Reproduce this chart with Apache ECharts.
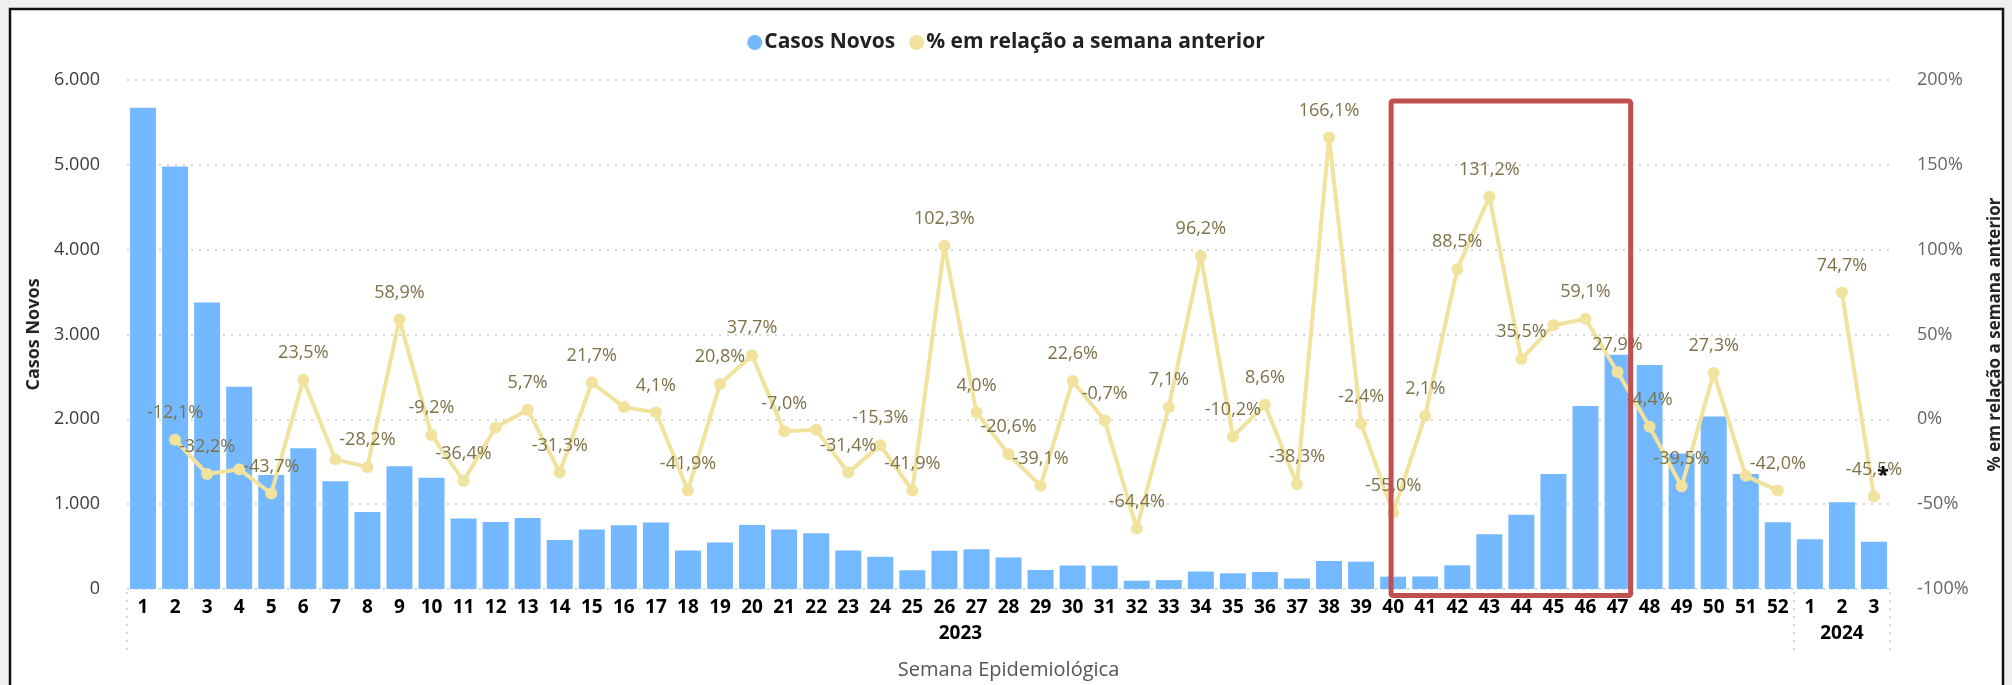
<!DOCTYPE html>
<html><head><meta charset="utf-8">
<script src="https://cdn.jsdelivr.net/npm/echarts@6/dist/echarts.min.js"></script>
<style>html,body{margin:0;padding:0;background:#efefef;} #c{width:2012px;height:685px;}</style>
</head><body><div id="c"></div>
<script>
// ---- data ----
const weeks = ['1','2','3','4','5','6','7','8','9','10','11','12','13','14','15','16','17','18','19','20',
  '21','22','23','24','25','26','27','28','29','30','31','32','33','34','35','36','37','38','39','40',
  '41','42','43','44','45','46','47','48','49','50','51','52','1','2','3'];
const years = ['2023', '2024'];
const weeksPerYear = [52, 3];
const casosNovos = [5672, 4981, 3377, 2383, 1344, 1660, 1269, 909, 1447, 1312,
  830, 790, 838, 577, 700, 751, 783, 455, 549, 755,
  700, 656, 455, 379, 221, 451, 470, 372, 225, 277,
  275, 98, 105, 206, 185, 201, 124, 330, 322, 145,
  148, 279, 645, 874, 1357, 2158, 2760, 2640, 1597, 2033,
  1355, 786, 585, 1022, 557];
const pctSemanaAnterior = [null, -12.1, -32.2, -29.4, -43.7, 23.5, -23.6, -28.2, 58.9, -9.2,
  -36.4, -4.8, 5.7, -31.3, 21.7, 7.3, 4.1, -41.9, 20.8, 37.7,
  -7.0, -6.2, -31.4, -15.3, -41.9, 102.3, 4.0, -20.6, -39.1, 22.6,
  -0.7, -64.4, 7.1, 96.2, -10.2, 8.6, -38.3, 166.1, -2.4, -55.0,
  2.1, 88.5, 131.2, 35.5, 55.5, 59.1, 27.9, -4.4, -39.5, 27.3,
  -33.3, -42.0, null, 74.7, -45.5];
// week positions (0-based) whose labels are hidden in the original
const hiddenLabels = [3, 6, 11, 15, 21, 44, 50];
// highlighted weeks (red box)
const highlightFrom = 39, highlightTo = 46;

// year centers derived from week counts
const yearCenter = {};
let acc = 0;
years.forEach((y, i) => { yearCenter[(acc + (acc + weeksPerYear[i] - 1)) / 2] = y; acc += weeksPerYear[i]; });
const yearBounds = [-0.5]; acc = 0;
weeksPerYear.forEach(n => { acc += n; yearBounds.push(acc - 0.5); });

const FONT = 'Open Sans, Noto Sans, sans-serif';
const fmtThousands = v => String(v).replace(/\B(?=(\d{3})+(?!\d))/g, '.');
const fmtPct = v => v.toFixed(1).replace('.', ',') + '%';

const chart = echarts.init(document.getElementById('c'));
const option = {
  backgroundColor: 'transparent',
  textStyle: { fontFamily: FONT },
  animation: false,
  legend: {
    top: 27, left: 'center', icon: 'circle', itemWidth: 15, itemHeight: 15, itemGap: 14,
    textStyle: { fontFamily: FONT, fontWeight: 'bold', fontSize: 21, color: '#222', padding: [0, 0, 0, -3] },
    data: ['Casos Novos', '% em relação a semana anterior']
  },
  grid: { left: 127, right: 119, top: 80, bottom: 96 },
  xAxis: [{
    type: 'category', data: weeks,
    axisLine: { show: false }, axisTick: { show: false },
    axisLabel: { interval: 0, fontFamily: FONT, fontWeight: 'bold', fontSize: 19, color: '#000', margin: 9 },
    name: 'Semana Epidemiológica', nameLocation: 'middle', nameGap: 71,
    nameTextStyle: { fontFamily: FONT, fontSize: 20, color: '#555' }
  }, {
    type: 'value', min: -0.5, max: 54.5, interval: 0.5, position: 'bottom', offset: 26,
    axisLine: { show: false }, axisTick: { show: false }, splitLine: { show: false },
    axisLabel: { fontFamily: FONT, fontWeight: 'bold', fontSize: 19, color: '#000', margin: 9,
      formatter: v => yearCenter[v] || '' }
  }],
  yAxis: [{
    type: 'value', min: 0, max: 6000, interval: 1000,
    axisLine: { show: false }, axisTick: { show: false },
    axisLabel: { fontFamily: FONT, fontSize: 18, color: '#3a3a3a', margin: 27, formatter: fmtThousands },
    splitLine: { lineStyle: { type: [2, 6], width: 2, color: '#d6d6d6' } },
    name: 'Casos Novos', nameLocation: 'middle', nameRotate: 90, nameGap: 84,
    nameTextStyle: { fontFamily: FONT, fontWeight: 'bold', fontSize: 18, color: '#252525' }
  }, {
    type: 'value', min: -100, max: 200, interval: 50, position: 'right',
    axisLine: { show: false }, axisTick: { show: false }, splitLine: { show: false },
    axisLabel: { fontFamily: FONT, fontSize: 18, color: '#666', margin: 27, formatter: v => v + '%' },
    name: '% em relação a semana anterior', nameLocation: 'middle', nameRotate: 90, nameGap: 97,
    nameTextStyle: { fontFamily: FONT, fontWeight: 'bold', fontSize: 17, color: '#252525' }
  }],
  series: [{
    name: 'Casos Novos', type: 'bar', data: casosNovos, barCategoryGap: '19%',
    itemStyle: { color: '#74B9FF' }
  }, {
    name: '% em relação a semana anterior', type: 'line', yAxisIndex: 1,
    data: pctSemanaAnterior.map((v, i) => v === null ? null : (hiddenLabels.includes(i) ? { value: v, label: { show: false } } : v)),
    symbol: 'circle', symbolSize: 12, connectNulls: false,
    lineStyle: { width: 4, color: '#F1E29E' }, itemStyle: { color: '#F1E29E' },
    label: { show: true, position: 'top', distance: 12, fontFamily: FONT, fontSize: 18, color: '#7d7148',
      formatter: p => p.value == null ? '' : fmtPct(p.value) }
  }]
};
chart.setOption(option);

// ---- decorations (frame, separators, highlight box, note) ----
const px = (i) => chart.convertToPixel({ xAxisIndex: 0 }, i);
const pyR = (v) => chart.convertToPixel({ yAxisIndex: 1 }, v);
const step = px(1) - px(0);
const gridBottom = chart.convertToPixel({ yAxisIndex: 0 }, 0);
const seps = yearBounds.map(b => {
  const x = px(0) + (b) * step;
  return { type: 'line', silent: true, z: 1,
    shape: { x1: x, y1: gridBottom + 3, x2: x, y2: gridBottom + 64 },
    style: { stroke: '#d6d6d6', lineWidth: 2, lineDash: [2, 6] } };
});
const bx1 = px(highlightFrom) - 0.065 * step, bx2 = px(highlightTo) + 0.41 * step;
const by1 = pyR(187.6), by2 = pyR(-103.8);
chart.setOption({
  graphic: [
    { type: 'rect', silent: true, z: -100, shape: { x: 10, y: 9, width: 1993, height: 700 },
      style: { fill: '#ffffff', stroke: '#111', lineWidth: 2.5 } },
    ...seps,
    { type: 'rect', silent: true, z: 100, shape: { x: bx1, y: by1, width: bx2 - bx1, height: by2 - by1, r: 2 },
      style: { fill: 'none', stroke: '#C0504D', lineWidth: 5 } },
    { type: 'text', silent: true, z: 100, x: px(54) + 0.28 * step, y: pyR(-33), style: { text: '*', font: 'bold 22px ' + FONT, fill: '#111', align: 'center', verticalAlign: 'middle' } }
  ]
});
</script></body></html>
